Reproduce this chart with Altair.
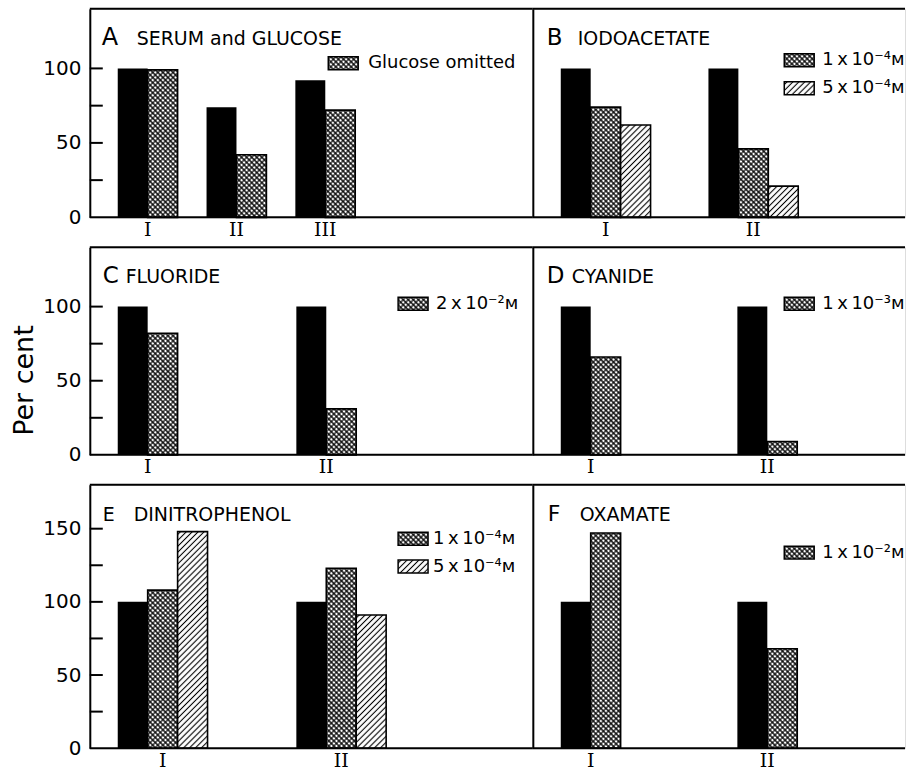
import altair as alt
import pandas as pd
from urllib.parse import quote

# ---------------- data ----------------
letters = ["A", "B", "C", "D", "E", "F"]
names = ["SERUM and GLUCOSE", "IODOACETATE", "FLUORIDE", "CYANIDE", "DINITROPHENOL", "OXAMATE"]

groups_A = ["I", "II", "III"]
control_A = [100, 74, 92]
glucose_omitted_A = [99, 42, 72]

groups_B = ["I", "II"]
control_B = [100, 100]
iodoacetate_low_B = [74, 46]
iodoacetate_high_B = [62, 21]

groups_C = ["I", "II"]
control_C = [100, 100]
fluoride_C = [82, 31]

groups_D = ["I", "II"]
control_D = [100, 100]
cyanide_D = [66, 9]

groups_E = ["I", "II"]
control_E = [100, 100]
dnp_low_E = [108, 123]
dnp_high_E = [148, 91]

groups_F = ["I", "II"]
control_F = [100, 100]
oxamate_F = [147, 68]

TS = "\u2009"  # thin space
legend_A = ["Glucose omitted"]
legend_B = [f"1{TS}x{TS}10\u207b\u2074\u1d0d", f"5{TS}x{TS}10\u207b\u2074\u1d0d"]
legend_C = [f"2{TS}x{TS}10\u207b\u00b2\u1d0d"]
legend_D = [f"1{TS}x{TS}10\u207b\u00b3\u1d0d"]
legend_E = [f"1{TS}x{TS}10\u207b\u2074\u1d0d", f"5{TS}x{TS}10\u207b\u2074\u1d0d"]
legend_F = [f"1{TS}x{TS}10\u207b\u00b2\u1d0d"]

y_labels_short = [0, 50, 100]
y_labels_tall = [0, 50, 100, 150]
y_ticks_short = [25, 50, 75, 100]
y_ticks_tall = [25, 50, 75, 100, 125, 150]
y_title = "Per cent"

# ---------------- styles ----------------
FONT = "DejaVu Sans"
SERIF = "DejaVu Serif"
PATTERNS = ["solid", "cross", "diag"]


def svg_pattern(tile, path, sw):
    svg = ('<svg xmlns="http://www.w3.org/2000/svg" width="100%" height="100%">'
           f'<defs><pattern id="p" width="{tile}" height="{tile}" patternUnits="userSpaceOnUse" '
           'patternTransform="rotate(45)">'
           f'<path d="{path}" stroke="black" stroke-width="{sw}" fill="none"/></pattern></defs>'
           '<rect width="100%" height="100%" fill="white"/>'
           '<rect width="100%" height="100%" fill="url(#p)"/></svg>')
    return "data:image/svg+xml;charset=utf-8," + quote(svg, safe="")


T = 3.6
CROSS = svg_pattern(T, f"M0,{T/2} H{T} M{T/2},0 V{T}", 1.15)
D = 4.2
DIAG = svg_pattern(D, f"M{D/2},0 V{D}", 1.1)
PATTERN_URL = {"cross": CROSS, "diag": DIAG}

BAR_W = 30
LEFT_W, RIGHT_W = 444, 373
ROW_H = [209, 208, 264]
FIRST = 28  # left edge of the first bar group inside each panel


def band_params(n, step, bw, start):
    # band scale whose groups start at `start`, are `step` apart and `bw` wide
    return dict(range=[start, start + step * (n - 1) + bw],
                paddingInner=1 - bw / step, paddingOuter=0, align=0)


def make_df(groups, series):
    rows = []
    for si, vals in enumerate(series):
        for g, v in zip(groups, vals):
            rows.append({"group": g, "series": f"s{si}", "value": v, "pattern": PATTERNS[si]})
    return pd.DataFrame(rows)


def one(text=""):
    return pd.DataFrame({"t": [text]})


def panel(letter, name, groups, series, legend, side, H, ymax, step,
          ylabels=None, yticks=None, ytitle=None, letter_x=13, letter_size=23,
          name_x=45, legend_x=255, legend_y=55, legend_tx=295):
    W = LEFT_W if side == "left" else RIGHT_W
    df = make_df(groups, series)
    n = len(series)
    band = band_params(len(groups), step, BAR_W * n, FIRST)

    xaxis = alt.Axis(labelAngle=0, ticks=False, tickSize=0, domain=False, grid=False,
                     labelFont=SERIF, labelFontSize=19, labelColor="black", labelPadding=3,
                     title=None)
    if side == "left":
        yaxis = alt.Axis(values=ylabels, ticks=False, tickSize=0, domain=True, domainColor="black",
                         domainWidth=2, grid=False, labelFont=FONT, labelFontSize=20,
                         labelColor="black", labelPadding=9, title=ytitle, titleFont=FONT,
                         titleFontSize=27, titleFontWeight="normal", titleColor="black",
                         titleX=-57, titleY=133, titleBaseline="alphabetic")
    else:
        yaxis = alt.Axis(labels=False, ticks=False, tickSize=0, domain=True, domainColor="black",
                         domainWidth=2, grid=False, title=None)

    xscale = alt.Scale(domain=groups, **band)
    y = alt.Y("value:Q", scale=alt.Scale(domain=[0, ymax], nice=False, zero=True,
                                         padding=0), axis=yaxis)
    y2 = alt.datum(0)

    layers = []
    for j in range(n):
        sub = alt.Chart(df).transform_filter(f"datum.series == 's{j}'")
        xj = alt.X("group:N", scale=xscale, axis=xaxis, bandPosition=j / n)
        x2j = alt.X2("group:N", bandPosition=(j + 1) / n)
        if PATTERNS[j] == "solid":
            layers.append(sub.mark_bar(color="black", strokeWidth=0, orient="vertical").encode(
                x=xj, x2=x2j, y=y, y2=y2))
        else:
            layers.append(sub.mark_image(aspect=False).encode(
                x=xj, x2=x2j, y=y, y2=y2, url=alt.value(PATTERN_URL[PATTERNS[j]])))
            layers.append(sub.mark_bar(fillOpacity=0, stroke="black", strokeWidth=1.6,
                                       orient="vertical").encode(x=xj, x2=x2j, y=y, y2=y2))

    if side == "left":
        ticks = alt.Chart(pd.DataFrame({"value": yticks})).mark_rule(
            color="black", strokeWidth=2).encode(y=y, x=alt.value(0), x2=alt.value(13))
        layers.append(ticks)

    # panel frame: top and bottom edges
    for yy in (0, H):
        layers.append(alt.Chart(one()).mark_rule(color="black", strokeWidth=2).encode(
            x=alt.value(0), x2=alt.value(W), y=alt.value(yy)))

    layers.append(alt.Chart(one(letter)).mark_text(
        align="left", baseline="alphabetic", font=FONT, fontSize=letter_size, color="black").encode(
        x=alt.value(letter_x), y=alt.value(36), text="t:N"))
    layers.append(alt.Chart(one(name)).mark_text(
        align="left", baseline="alphabetic", font=FONT, fontSize=19, color="black").encode(
        x=alt.value(name_x), y=alt.value(36), text="t:N"))

    for j, lab in enumerate(legend):
        cy = legend_y + 28 * j
        url = PATTERN_URL[PATTERNS[j + 1]]
        layers.append(alt.Chart(one()).mark_image(aspect=False).encode(
            x=alt.value(legend_x), x2=alt.value(legend_x + 30),
            y=alt.value(cy - 6.5), y2=alt.value(cy + 6.5), url=alt.value(url)))
        layers.append(alt.Chart(one()).mark_rect(fillOpacity=0, stroke="black", strokeWidth=1.5).encode(
            x=alt.value(legend_x), x2=alt.value(legend_x + 30),
            y=alt.value(cy - 6.5), y2=alt.value(cy + 6.5)))
        layers.append(alt.Chart(one(lab)).mark_text(
            align="left", baseline="middle", font=FONT, fontSize=18, color="black", clip=True).encode(
            x=alt.value(legend_tx), y=alt.value(cy), text="t:N"))

    return alt.layer(*layers).properties(width=W, height=H)


pA = panel(letters[0], names[0], groups_A, [control_A, glucose_omitted_A], legend_A, "left",
           ROW_H[0], 140, 89, ylabels=y_labels_short, yticks=y_ticks_short,
           letter_x=12, letter_size=24, name_x=47, legend_x=239, legend_y=54.5, legend_tx=279)
pB = panel(letters[1], names[1], groups_B, [control_B, iodoacetate_low_B, iodoacetate_high_B], legend_B,
           "right", ROW_H[0], 140, 148, letter_x=14, letter_size=23, name_x=45,
           legend_x=252, legend_y=51.5, legend_tx=290)
pC = panel(letters[2], names[2], groups_C, [control_C, fluoride_C], legend_C, "left",
           ROW_H[1], 140, 179, ylabels=y_labels_short, yticks=y_ticks_short, ytitle=y_title,
           letter_x=13, letter_size=23, name_x=36, legend_x=309, legend_y=56.5, legend_tx=347)
pD = panel(letters[3], names[3], groups_D, [control_D, cyanide_D], legend_D, "right",
           ROW_H[1], 140, 177, letter_x=14, letter_size=23, name_x=39,
           legend_x=252, legend_y=56.5, legend_tx=290)
pE = panel(letters[4], names[4], groups_E, [control_E, dnp_low_E, dnp_high_E], legend_E, "left",
           ROW_H[2], 180, 179, ylabels=y_labels_tall, yticks=y_ticks_tall,
           letter_x=13, letter_size=19, name_x=44, legend_x=309, legend_y=54, legend_tx=344)
pF = panel(letters[5], names[5], groups_F, [control_F, oxamate_F], legend_F, "right",
           ROW_H[2], 180, 177, letter_x=15, letter_size=22, name_x=47,
           legend_x=252, legend_y=68, legend_tx=290)

chart = alt.concat(pA, pB, pC, pD, pE, pF, columns=2,
                   spacing={"row": 30, "column": 0}, bounds="flush", align="each").properties(
    padding={"left": 10, "top": 6, "right": 0, "bottom": 0},
    background="white",
).configure_view(stroke=None).configure(font=FONT)

chart.save("out.html", embed_options={"renderer": "svg", "actions": False})
